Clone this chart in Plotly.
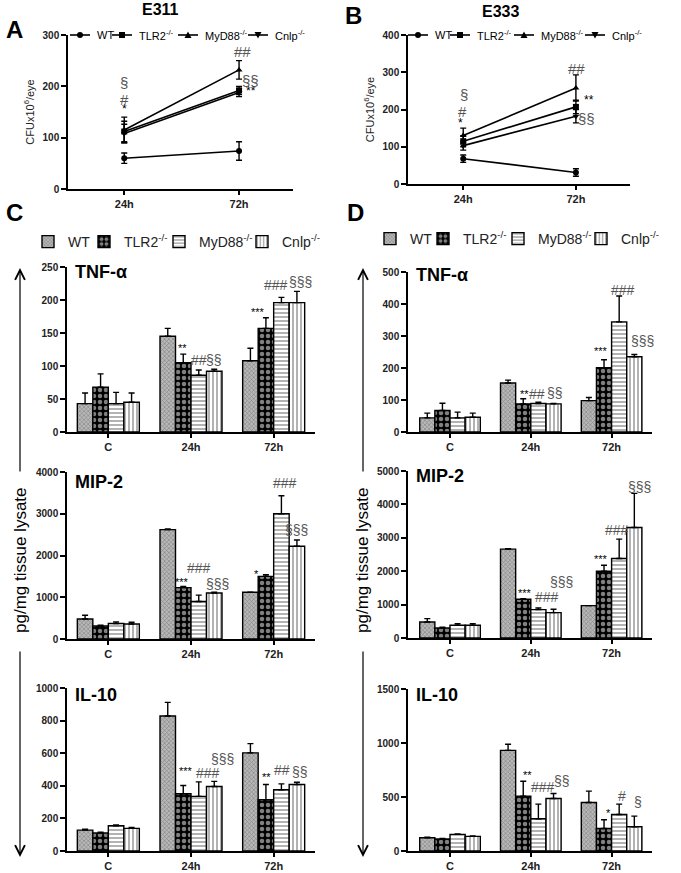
import plotly.graph_objects as go

# ---------------- DATA ----------------
times = ["24h", "72h"]
groups = ["C", "24h", "72h"]
genotypes = ["WT", "TLR2<sup>-/-</sup>", "MyD88<sup>-/-</sup>", "Cnlp<sup>-/-</sup>"]

# Panel A: E311 CFU x10^6 / eye
a_wt = [60, 74];      a_wt_err = [10, 18]
a_tlr2 = [112, 192];  a_tlr2_err = [20, 8]
a_myd88 = [115, 232]; a_myd88_err = [25, 18]
a_cnlp = [108, 188];  a_cnlp_err = [18, 8]

# Panel B: E333 CFU x10^6 / eye
b_wt = [68, 31];      b_wt_err = [10, 10]
b_tlr2 = [115, 207];  b_tlr2_err = [15, 18]
b_myd88 = [130, 258]; b_myd88_err = [20, 35]
b_cnlp = [103, 182];  b_cnlp_err = [12, 18]

# Panel C (E311) cytokines: order WT, TLR2, MyD88, Cnlp ; values for C, 24h, 72h
c_tnf = [[43, 145, 108], [68, 105, 157], [43, 86, 196], [45, 92, 196]]
c_tnf_err = [[16, 12, 19], [20, 13, 16], [17, 8, 8], [14, 3, 17]]
c_mip = [[480, 2620, 1120], [310, 1230, 1500], [370, 900, 3000], [360, 1100, 2220]]
c_mip_err = [[90, 15, 0], [20, 30, 40], [40, 150, 430], [40, 20, 150]]
c_il10 = [[128, 828, 602], [110, 351, 314], [155, 335, 376], [139, 396, 408]]
c_il10_err = [[6, 84, 57], [5, 51, 94], [5, 89, 36], [5, 31, 14]]

# Panel D (E333) cytokines
d_tnf = [[44, 153, 98], [67, 88, 201], [44, 89, 344], [46, 88, 235]]
d_tnf_err = [[15, 9, 10], [23, 16, 25], [18, 4, 81], [13, 1, 7]]
d_mip = [[480, 2660, 970], [300, 1160, 2000], [380, 850, 2380], [380, 760, 3310]]
d_mip_err = [[100, 15, 0], [20, 20, 180], [50, 50, 580], [50, 100, 1020]]
d_il10 = [[123, 932, 449], [111, 508, 209], [154, 298, 338], [135, 486, 225]]
d_il10_err = [[5, 56, 105], [5, 138, 80], [5, 136, 96], [5, 46, 98]]

# significance labels: (group index, bar index, y value, text, pixel shift)
c_tnf_sig = [(1, 1, 127, "**", -1), (1, 2, 109, "##", 0), (1, 3, 109, "§§", 0),
             (2, 1, 182, "***", -8), (2, 2, 222, "###", -5), (2, 3, 228, "§§§", 4)]
c_mip_sig = [(1, 1, 1370, "***", -1), (1, 2, 1700, "###", 0), (1, 3, 1320, "§§§", 3),
             (2, 1, 1560, "*", -9), (2, 2, 3730, "###", 4), (2, 3, 2610, "§§§", 0)]
c_il10_sig = [(1, 1, 488, "***", 3), (1, 2, 476, "###", 9), (1, 3, 567, "§§§", 8),
              (2, 1, 457, "**", 1), (2, 2, 500, "##", 1), (2, 3, 482, "§§", 3)]
d_tnf_sig = [(1, 1, 120, "**", 1), (1, 2, 120, "##", -1), (1, 3, 123, "§§", 1),
             (2, 1, 253, "***", -3), (2, 2, 444, "###", 4), (2, 3, 284, "§§§", 8)]
d_mip_sig = [(1, 1, 1350, "***", 2), (1, 2, 1220, "###", 9), (1, 3, 1670, "§§§", 8),
             (2, 1, 2360, "***", -3), (2, 2, 3230, "###", -2), (2, 3, 4530, "§§§", 5)]
d_il10_sig = [(1, 1, 700, "**", 4), (1, 2, 597, "###", 5), (1, 3, 652, "§§", 8),
              (2, 1, 348, "*", 4), (2, 2, 508, "#", 3), (2, 3, 455, "§", 4)]

# significance on line panels: (time index, y value, text, pixel shift)
a_sig = [(0, 156, "*", 0), (0, 175, "#", 0), (0, 208, "§", 0),
         (1, 267, "##", 3), (1, 212, "§§", 11), (1, 190, "**", 12)]
b_sig = [(0, 163, "*", -3), (0, 195, "#", -1), (0, 240, "§", 1),
         (1, 311, "##", 1), (1, 225, "**", 13), (1, 177, "§§", 11)]

# ---------------- FIGURE ----------------
W, H = 681, 873
FONT = "Liberation Sans, Arial, sans-serif"
fig = go.Figure()

def px(x):
    return x / W

def py(y):
    return 1 - y / H

# ---- line charts ----
markers = ["circle", "square", "triangle-up", "triangle-down"]
line_sets = [
    ("x", "y", [a_wt, a_tlr2, a_myd88, a_cnlp], [a_wt_err, a_tlr2_err, a_myd88_err, a_cnlp_err]),
    ("x2", "y2", [b_wt, b_tlr2, b_myd88, b_cnlp], [b_wt_err, b_tlr2_err, b_myd88_err, b_cnlp_err]),
]
for xa, ya, vals, errs in line_sets:
    for i in range(4):
        fig.add_trace(go.Scatter(
            x=times, y=vals[i], xaxis=xa, yaxis=ya, showlegend=False,
            name=genotypes[i], mode="lines+markers",
            line=dict(color="black", width=1.6),
            marker=dict(symbol=markers[i], size=6, color="black"),
            error_y=dict(type="data", array=errs[i], color="black", thickness=1.4, width=3),
        ))

# ---- bar charts ----
patterns = [
    dict(shape="x", size=3, solidity=0.35, fgcolor="#444444", bgcolor="#b8b8b8"),
    dict(shape=".", size=6, solidity=0.45, fgcolor="white", bgcolor="black"),
    dict(shape="-", size=4, solidity=0.3, fgcolor="black", bgcolor="white"),
    dict(shape="|", size=4, solidity=0.3, fgcolor="black", bgcolor="white"),
]
c_legends = ["legend3", "legend4", "legend5", "legend6"]
d_legends = ["legend7", "legend8", "legend9", "legend10"]
bar_sets = [
    ("x3", "y3", c_legends, c_tnf, c_tnf_err, True),
    ("x4", "y4", c_legends, c_mip, c_mip_err, False),
    ("x5", "y5", c_legends, c_il10, c_il10_err, False),
    ("x6", "y6", d_legends, d_tnf, d_tnf_err, True),
    ("x7", "y7", d_legends, d_mip, d_mip_err, False),
    ("x8", "y8", d_legends, d_il10, d_il10_err, False),
]
for xa, ya, lgs, vals, errs, show in bar_sets:
    for i in range(4):
        fig.add_trace(go.Bar(
            x=groups, y=vals[i], xaxis=xa, yaxis=ya, legend=lgs[i],
            name=genotypes[i], showlegend=show,
            marker=dict(color="white", line=dict(color="black", width=1.4), pattern=patterns[i]),
            error_y=dict(type="data", symmetric=False, array=errs[i], arrayminus=[0, 0, 0],
                         color="black", thickness=1.4, width=3),
        ))

# ---- axes ----
axis_common = dict(showgrid=False, zeroline=False, showline=True, linecolor="black",
                   linewidth=1.5, ticks="outside", tickcolor="black", ticklen=5, tickwidth=1.5,
                   tickfont=dict(family=FONT, size=10, color="#222", weight="bold"))

def xax(dom, anchor, rng):
    d = dict(axis_common)
    d.update(domain=dom, anchor=anchor, type="category", range=rng, ticklen=4,
             tickfont=dict(family=FONT, size=11, color="#222", weight="bold"))
    return d

def yax(dom, anchor, rng, dtick, title=None):
    d = dict(axis_common)
    d.update(domain=dom, anchor=anchor, range=rng, dtick=dtick, tick0=0)
    if title:
        d["title"] = dict(text=title, font=dict(family=FONT, size=11, color="#222"), standoff=6)
    return d

cfu = "CFUx10<sup>6</sup>/eye"
fig.update_layout(
    xaxis=xax([px(68), px(293)], "y", [-0.49, 1.47]),
    yaxis=yax([py(189), py(35)], "x", [0, 300], 100, cfu),
    xaxis2=xax([px(408), px(630)], "y2", [-0.49, 1.48]),
    yaxis2=yax([py(184), py(35)], "x2", [0, 400], 100, cfu),
    xaxis3=xax([px(67), px(315)], "y3", [-0.5, 2.5]),
    yaxis3=yax([py(432), py(267)], "x3", [0, 250], 50),
    xaxis4=xax([px(67), px(315)], "y4", [-0.5, 2.5]),
    yaxis4=yax([py(639), py(472)], "x4", [0, 4000], 1000),
    xaxis5=xax([px(67), px(315)], "y5", [-0.5, 2.5]),
    yaxis5=yax([py(851), py(688)], "x5", [0, 1000], 200),
    xaxis6=xax([px(408), px(652)], "y6", [-0.52, 2.5]),
    yaxis6=yax([py(432), py(272)], "x6", [0, 500], 100),
    xaxis7=xax([px(408), px(652)], "y7", [-0.52, 2.5]),
    yaxis7=yax([py(638), py(471)], "x7", [0, 5000], 1000),
    xaxis8=xax([px(408), px(652)], "y8", [-0.52, 2.5]),
    yaxis8=yax([py(851), py(689)], "x8", [0, 1500], 500),
)

# ---- legends (one per entry, so each can sit where the reference shows it) ----
def leg(text_x, y, size):
    return dict(x=px(text_x - 40), y=py(y), xanchor="left", yanchor="middle", orientation="h",
                bgcolor="rgba(0,0,0,0)", borderwidth=0,
                font=dict(family=FONT, size=size, color="#222"))

c_text_x = [68, 124, 199, 282]
d_text_x = [410, 463, 538, 621]
legend_layout = {}
for name, tx in zip(c_legends, c_text_x):
    legend_layout[name] = leg(tx, 242, 14)
for name, tx in zip(d_legends, d_text_x):
    legend_layout[name] = leg(tx, 239, 14)
fig.update_layout(**legend_layout)

fig.update_layout(
    showlegend=True,
    barmode="group", bargap=0.25, bargroupgap=0,
    width=W, height=H, margin=dict(l=0, r=0, t=0, b=0, autoexpand=False),
    plot_bgcolor="white", paper_bgcolor="white",
    font=dict(family=FONT, color="#222"),
)

# ---- annotations ----
ann = []
shapes = []

def text(x, y, t, size, bold=True, xanchor="center", angle=0):
    ann.append(dict(x=px(x), y=py(y), xref="paper", yref="paper", text=t, showarrow=False,
                    xanchor=xanchor, yanchor="middle", textangle=angle,
                    font=dict(family=FONT, size=size, color="black",
                              weight="bold" if bold else "normal")))

text(14, 30, "A", 24); text(353, 15, "B", 24); text(14, 212, "C", 24); text(355, 212, "D", 24)
text(160, 10, "E311", 16); text(500, 12, "E333", 16)
for yy, t in [(272, "TNF-α"), (482, "MIP-2"), (695, "IL-10")]:
    text(73, yy, t, 18, xanchor="left")
for yy, t in [(275, "TNF-α"), (476, "MIP-2"), (695, "IL-10")]:
    text(414, yy, t, 18, xanchor="left")
text(20, 560, "pg/mg tissue lysate", 17, bold=False, angle=-90)
text(362, 560, "pg/mg tissue lysate", 17, bold=False, angle=-90)

# vertical arrows beside the cytokine panels
for xx in (20, 363):
    ann.append(dict(x=px(xx), y=py(268), xref="paper", yref="paper", ax=0, ay=205, text="",
                    showarrow=True, arrowhead=5, arrowsize=1.6, arrowwidth=1.2, arrowcolor="black"))
    ann.append(dict(x=px(xx), y=py(857), xref="paper", yref="paper", ax=0, ay=-207, text="",
                    showarrow=True, arrowhead=5, arrowsize=1.6, arrowwidth=1.2, arrowcolor="black"))

# legends of the CFU panels: line sample + marker + label
def line_legend(starts, y):
    for i, s in enumerate(starts):
        shapes.append(dict(type="line", xref="paper", yref="paper",
                           x0=px(s), x1=px(s + 20), y0=py(y), y1=py(y),
                           line=dict(color="black", width=1.6)))
        cx, r = s + 10, 3
        if i == 0:
            shapes.append(dict(type="circle", xref="paper", yref="paper",
                               x0=px(cx - r), x1=px(cx + r), y0=py(y - r), y1=py(y + r),
                               fillcolor="black", line=dict(width=0)))
        elif i == 1:
            shapes.append(dict(type="rect", xref="paper", yref="paper",
                               x0=px(cx - r), x1=px(cx + r), y0=py(y - r), y1=py(y + r),
                               fillcolor="black", line=dict(width=0)))
        else:
            sgn = 1 if i == 2 else -1
            p = "M %f %f L %f %f L %f %f Z" % (px(cx - 3.5), py(y + 3 * sgn), px(cx + 3.5),
                                               py(y + 3 * sgn), px(cx), py(y - 3.5 * sgn))
            shapes.append(dict(type="path", xref="paper", yref="paper", path=p,
                               fillcolor="black", line=dict(width=0)))
        text(s + 25, y, genotypes[i], 11, bold=False, xanchor="left")

line_legend([70, 112, 178, 248], 35)
line_legend([408, 450, 514, 585], 35)

# significance marks on bar panels
BARGAP = 0.25
def offset(i):
    w = (1 - BARGAP) / 4
    return -(1 - BARGAP) / 2 + (i + 0.5) * w

def sig_color(t):
    return "black" if "*" in t else "#555"

def sig_size(t):
    return 11 if "*" in t else 14

for xa, ya, sigs in [("x3", "y3", c_tnf_sig), ("x4", "y4", c_mip_sig), ("x5", "y5", c_il10_sig),
                     ("x6", "y6", d_tnf_sig), ("x7", "y7", d_mip_sig), ("x8", "y8", d_il10_sig)]:
    for g, b, yv, t, xs in sigs:
        ann.append(dict(x=g + offset(b), y=yv, xref=xa, yref=ya, text=t, showarrow=False,
                        xshift=xs, yanchor="middle", xanchor="center",
                        font=dict(family=FONT, size=sig_size(t), color=sig_color(t))))

for xa, ya, sigs in [("x", "y", a_sig), ("x2", "y2", b_sig)]:
    for g, yv, t, xs in sigs:
        ann.append(dict(x=g, y=yv, xref=xa, yref=ya, text=t, showarrow=False, xshift=xs,
                        yanchor="middle", xanchor="center",
                        font=dict(family=FONT, size=sig_size(t) + 1, color=sig_color(t))))

fig.update_layout(annotations=ann, shapes=shapes)

# the page's default 8px body margin would shift the figure; remove it
fig.write_html("out.html", config={"displayModeBar": False},
               post_script="document.body.style.margin='0';document.body.style.overflow='hidden';")
